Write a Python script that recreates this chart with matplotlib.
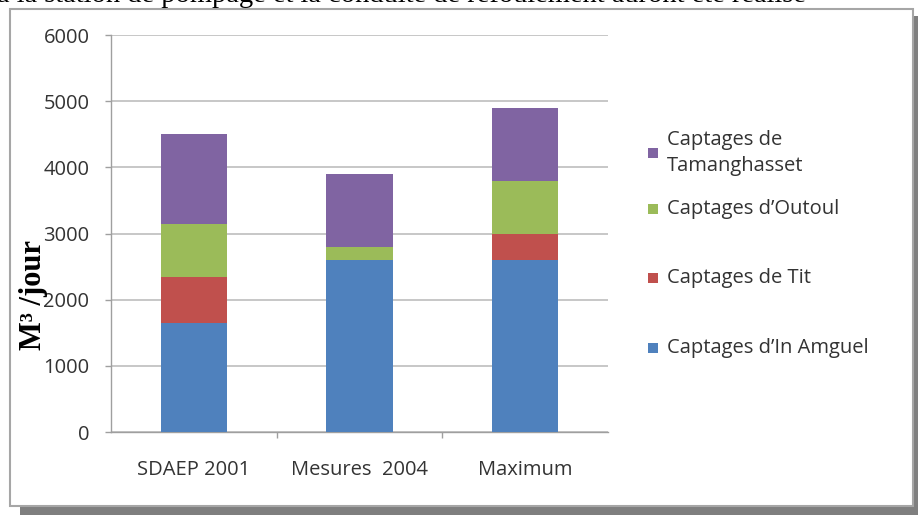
import matplotlib
matplotlib.use('Agg')
import matplotlib.pyplot as plt
from matplotlib.patches import Rectangle
import numpy as np

# Données (m3/jour)
categories = ['SDAEP 2001', 'Mesures  2004', 'Maximum']
series_names = ["Captages d\u2019In Amguel", 'Captages de Tit',
                "Captages d\u2019Outoul", 'Captages de\nTamanghasset']
in_amguel = [1650, 2600, 2600]
tit = [700, 0, 400]
outoul = [800, 200, 800]
tamanghasset = [1350, 1100, 1100]
yticks = [0, 1000, 2000, 3000, 4000, 5000, 6000]

colors = ['#4F81BD', '#C0504D', '#9BBB59', '#8064A2']

W, H = 918, 515
fig = plt.figure(figsize=(W / 100, H / 100), dpi=100)
font = ['Open Sans', 'DejaVu Sans']
fs = 14.5

# Cadre avec ombre
fig.patches.append(Rectangle((20 / W, -10 / H), 905 / W, (H - 16 + 10) / H,
                             transform=fig.transFigure, facecolor='#7F7F7F',
                             edgecolor='none', zorder=-3))
fig.patches.append(Rectangle((10 / W, 9 / H), 903 / W, 497 / H,
                             transform=fig.transFigure, facecolor='white',
                             edgecolor='#A6A6A6', linewidth=1.5, zorder=-2))

# Ligne de texte coupée en haut de la page
fig.text(-3 / W, 1 - 1.5 / H,
         "à la station de pompage et la conduite de refoulement auront été réalisé",
         family='Liberation Serif', fontsize=20.5, va='baseline', ha='left')

ax = fig.add_axes([111 / W, 83 / H, 497 / W, 397 / H])
ax.set_facecolor('none')

x = np.arange(len(categories))
bottom = np.zeros(len(categories))
for vals, c in zip([in_amguel, tit, outoul, tamanghasset], colors):
    ax.bar(x, vals, width=0.4, bottom=bottom, color=c, zorder=3)
    bottom += np.array(vals)

ax.set_xlim(-0.5, 2.5)
ax.set_ylim(0, 6000)
ax.set_yticks(yticks)
ax.set_yticklabels([str(v) for v in yticks], family=font, fontsize=fs, color='#333333')
ax.set_xticks(x)
ax.set_xticklabels(categories, family=font, fontsize=fs, color='#333333')
ax.set_xticks([0.5, 1.5], minor=True)
ax.tick_params(axis='x', which='major', length=0, pad=20)
ax.tick_params(axis='x', which='minor', length=4.5, width=1, color='#9F9F9F')
ax.tick_params(axis='y', length=4.5, width=1, color='#9F9F9F', pad=11)
ax.grid(axis='y', color='#BEBEBE', linewidth=1.2, zorder=0)
for s in ['top', 'right']:
    ax.spines[s].set_visible(False)
for s in ['left', 'bottom']:
    ax.spines[s].set_color('#9F9F9F')
    ax.spines[s].set_linewidth(1)

# Titre de l'axe vertical
fig.text(34 / W, 1 - 295 / H, 'M\u00b3 /jour', family='Liberation Serif',
         fontweight='bold', fontsize=22, rotation=90, ha='center', va='center')

# Légende (ordre inversé, comme dans Excel)
legend_y = [348, 278, 209, 153]
for name, c, yy in zip(series_names, colors, legend_y):
    fig.patches.append(Rectangle((648 / W, 1 - (yy + 5) / H), 10 / W, 10 / H,
                                 transform=fig.transFigure, facecolor=c,
                                 edgecolor='none'))
    fig.text(667 / W, 1 - yy / H, name, family=font, fontsize=fs,
             color='#333333', ha='left', va='center', linespacing=1.35)

fig.savefig('out.png', dpi=100)
